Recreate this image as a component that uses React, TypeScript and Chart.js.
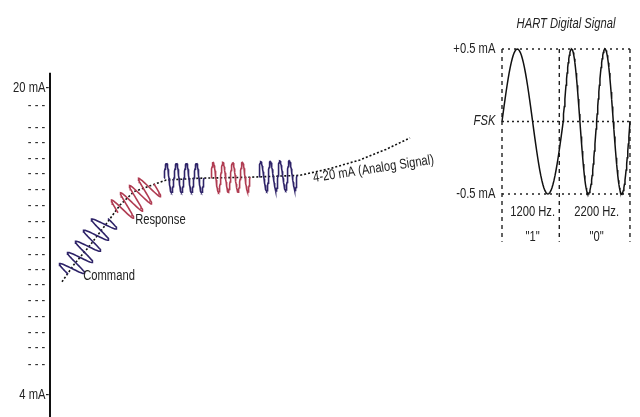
import { useEffect, useRef } from 'react';
import { Chart, registerables } from 'chart.js';

Chart.register(...registerables);

// ---------------- data ----------------
// Left diagram: time (arbitrary units) vs loop current (mA)
const analogTime = [3, 6, 10, 14, 17.5, 21, 25, 29, 37.5, 50, 62.5, 70, 77.5, 84, 90];
const analogCurrent = [9.9, 10.8, 11.8, 12.9, 13.9, 14.6, 14.9, 15.2, 15.3, 15.35, 15.45, 15.8, 16.25, 16.8, 17.4];

// HART bursts riding on the analog signal
const burstStartTime = [4.5, 17, 28.5, 40.25, 52.25];
const burstEndTime = [14.5, 26, 38.5, 50, 61.75];
const burstStartCurrent = [10.3, 13.5, 15.31, 15.33, 15.38];
const burstEndCurrent = [13.2, 15.0, 15.31, 15.36, 15.45];
const burstCycles = [5, 4, 4, 4, 4];
const burstRoles = ['master', 'slave', 'master', 'slave', 'master'];

// Current scale (mA)
const scaleLabels = ['20 mA-', '4 mA-'];
const scaleValues = [20, 4];
const rulerMarks = [19.06, 17.92, 17.13, 16.3, 15.52, 14.68, 13.85, 13.02, 12.18, 11.3, 10.51, 9.73, 8.9, 8.07, 7.23, 6.45, 5.56];

// Right diagram: HART FSK signal (time in ms, current in mA)
const bitFrequencies = [1200, 2200];
const bitCycles = [1, 2];
const bitNames = ['1200 Hz.', '2200 Hz.'];
const bitValues = ['"1"', '"0"'];
const hartLevels = [0.5, 0, -0.5];
const hartLevelLabels = ['+0.5 mA', 'FSK', '-0.5 mA'];
const hartDividers = [0, 0.78, 1.742];

// ---------------- layout ----------------
const W = 640;
const H = 417;
const L_PX_PER_T = 4;
const L_AXIS_PX = 50;
const L_PX_PER_MA = (395 - 88) / 16;
const xMin = -L_AXIS_PX / L_PX_PER_T;
const xMax = (W - L_AXIS_PX) / L_PX_PER_T;
const yMax = 20 + 88 / L_PX_PER_MA;
const yMin = 4 - (H - 395) / L_PX_PER_MA;
const totalMs = bitFrequencies.reduce((s, f, i) => s + (bitCycles[i] / f) * 1000, 0);
const R_PX_PER_MS = (630 - 502) / totalMs;
const x2Min = -502 / R_PX_PER_MS;
const x2Max = (W - 502) / R_PX_PER_MS;
const R_PX_PER_MA = 194 - 49;
const y2Max = 0.5 + 49 / R_PX_PER_MA;
const y2Min = -0.5 - (H - 194) / R_PX_PER_MA;

const NAVY = '#2e2368';
const RED = '#b03c52';
const AMPS = [13, 14, 15, 15, 15];

function burstData(i: number) {
  const t0 = burstStartTime[i];
  const t1 = burstEndTime[i];
  const m0 = burstStartCurrent[i];
  const m1 = burstEndCurrent[i];
  const dx = (t1 - t0) * L_PX_PER_T;
  const dy = -(m1 - m0) * L_PX_PER_MA;
  const len = Math.hypot(dx, dy);
  const nx = dy / len;
  const ny = -dx / len;
  const n = burstCycles[i] * 40;
  const pts: { x: number; y: number }[] = [];
  for (let k = 0; k <= n; k++) {
    const s = k / n;
    const w = AMPS[i] * Math.sin(2 * Math.PI * burstCycles[i] * s);
    const sx = s * dx + nx * w;
    const sy = s * dy + ny * w;
    pts.push({ x: t0 + sx / L_PX_PER_T, y: m0 - sy / L_PX_PER_MA });
  }
  return pts;
}

function hartWave() {
  const pts: { x: number; y: number }[] = [];
  let start = 0;
  bitFrequencies.forEach((f, i) => {
    const dur = (bitCycles[i] / f) * 1000;
    const n = bitCycles[i] * 60;
    for (let k = 0; k <= n; k++) {
      const t = (k / n) * dur;
      pts.push({ x: start + t, y: 0.5 * Math.sin((2 * Math.PI * f * t) / 1000) });
    }
    start += dur;
  });
  return pts;
}

const FONT = "'Liberation Sans', Arial, sans-serif";

function drawText(
  ctx: CanvasRenderingContext2D,
  text: string,
  px: number,
  py: number,
  opts: { align?: CanvasTextAlign; size?: number; italic?: boolean; rotate?: number; squeeze?: number; color?: string } = {}
) {
  const { align = 'left', size = 14, italic = false, rotate = 0, squeeze = 0.8, color = '#222' } = opts;
  ctx.save();
  ctx.translate(px, py);
  if (rotate) ctx.rotate(rotate);
  ctx.scale(squeeze, 1);
  ctx.font = `${italic ? 'italic ' : ''}${size}px ${FONT}`;
  ctx.textAlign = align;
  ctx.textBaseline = 'middle';
  ctx.fillStyle = color;
  ctx.fillText(text, 0, 0);
  ctx.restore();
}

const textPlugin = {
  id: 'diagramText',
  afterDatasetsDraw(chart: any) {
    const ctx = chart.ctx as CanvasRenderingContext2D;
    const x = chart.scales.x;
    const y = chart.scales.y;
    const x2 = chart.scales.x2;
    const y2 = chart.scales.y2;
    scaleLabels.forEach((lab, i) => {
      drawText(ctx, lab, x.getPixelForValue(-0.2), y.getPixelForValue(scaleValues[i]), { align: 'right' });
    });
    rulerMarks.forEach((v) => {
      drawText(ctx, '- - -', x.getPixelForValue(-1.2), y.getPixelForValue(v), { align: 'right', color: '#333' });
    });
    drawText(ctx, 'Command', x.getPixelForValue(8.3), y.getPixelForValue(10.2));
    drawText(ctx, 'Response', x.getPixelForValue(21.3), y.getPixelForValue(13.1));
    drawText(ctx, '4-20 mA (Analog Signal)', x.getPixelForValue(65.8), y.getPixelForValue(15.3), { rotate: -0.15 });
    drawText(ctx, 'HART Digital Signal', x2.getPixelForValue(totalMs / 2), y2.getPixelForValue(0.67), { align: 'center', italic: true });
    hartLevels.forEach((lv, i) => {
      drawText(ctx, hartLevelLabels[i], x2.getPixelForValue(-0.09), y2.getPixelForValue(lv), { align: 'right', italic: i === 1 });
    });
    let start = 0;
    bitFrequencies.forEach((f, i) => {
      const dur = (bitCycles[i] / f) * 1000;
      const cx = x2.getPixelForValue(start + dur / 2);
      drawText(ctx, bitNames[i], cx, y2.getPixelForValue(-0.625), { align: 'center' });
      drawText(ctx, bitValues[i], cx, y2.getPixelForValue(-0.8), { align: 'center' });
      start += dur;
    });
  },
};

export default function App() {
  const ref = useRef<HTMLCanvasElement | null>(null);
  useEffect(() => {
    if (!ref.current) return;
    const datasets: any[] = [];
    burstRoles.forEach((role, i) => {
      datasets.push({
        data: burstData(i),
        borderColor: role === 'master' ? NAVY : RED,
        borderWidth: 1.6,
        xAxisID: 'x',
        yAxisID: 'y',
      });
    });
    datasets.push({
      data: analogTime.map((t, i) => ({ x: t, y: analogCurrent[i] })),
      borderColor: '#111',
      borderWidth: 1.6,
      borderDash: [2, 2],
      xAxisID: 'x',
      yAxisID: 'y',
    });
    datasets.push({
      data: [
        { x: 0, y: 20.8 },
        { x: 0, y: yMin },
      ],
      borderColor: '#111',
      borderWidth: 2,
      xAxisID: 'x',
      yAxisID: 'y',
    });
    datasets.push({
      data: hartWave(),
      borderColor: '#111',
      borderWidth: 1.5,
      xAxisID: 'x2',
      yAxisID: 'y2',
    });
    hartLevels.forEach((lv) => {
      datasets.push({
        data: [
          { x: 0, y: lv },
          { x: totalMs, y: lv },
        ],
        borderColor: '#222',
        borderWidth: 1.4,
        borderDash: lv === 0 ? [2, 3] : [2, 4],
        xAxisID: 'x2',
        yAxisID: 'y2',
      });
    });
    hartDividers.forEach((d) => {
      datasets.push({
        data: [
          { x: d, y: 0.5 },
          { x: d, y: -0.83 },
        ],
        borderColor: '#222',
        borderWidth: 1.4,
        borderDash: [4, 4],
        xAxisID: 'x2',
        yAxisID: 'y2',
      });
    });
    const chart = new Chart(ref.current, {
      type: 'line',
      data: { datasets },
      options: {
        animation: false,
        responsive: false,
        events: [],
        layout: { padding: 0, autoPadding: false },
        plugins: { legend: { display: false }, tooltip: { enabled: false }, title: { display: false } },
        elements: { point: { radius: 0 }, line: { tension: 0, fill: false } },
        scales: {
          x: { type: 'linear', display: false, min: xMin, max: xMax },
          y: { type: 'linear', display: false, min: yMin, max: yMax },
          x2: { type: 'linear', display: false, min: x2Min, max: x2Max },
          y2: { type: 'linear', display: false, min: y2Min, max: y2Max },
        },
      } as any,
      plugins: [textPlugin],
    });
    return () => chart.destroy();
  }, []);
  return (
    <canvas
      ref={ref}
      width={W}
      height={H}
      style={{ position: 'absolute', left: 0, top: 0, width: W, height: H, background: '#fff' }}
    />
  );
}
